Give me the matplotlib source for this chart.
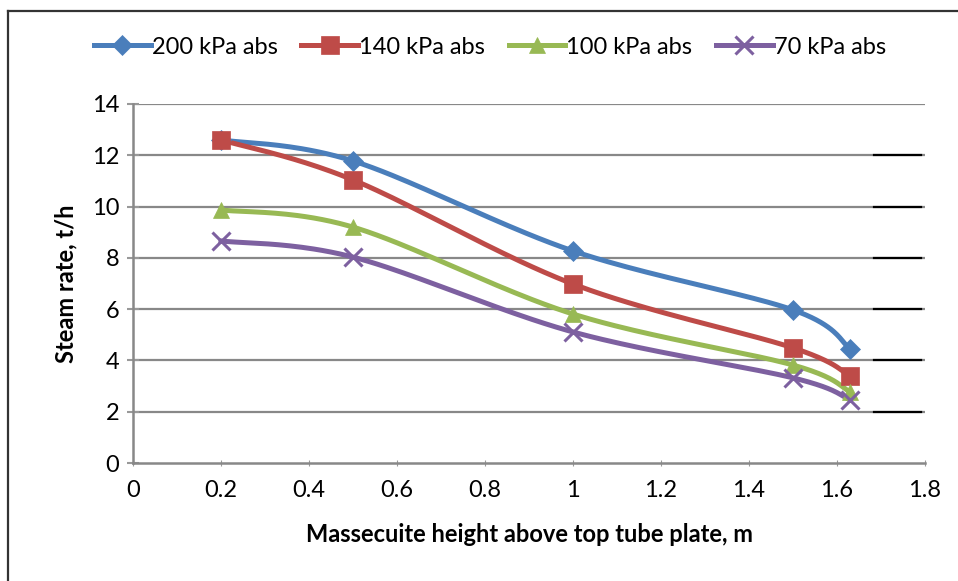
import numpy as np
import matplotlib.pyplot as plt
from matplotlib.lines import Line2D

plt.rcParams['font.family'] = ['Lato', 'DejaVu Sans']

# data
height = [0.2, 0.5, 1.0, 1.5, 1.63]
steam_200 = [12.6, 11.78, 8.27, 5.97, 4.45]
steam_140 = [12.6, 11.04, 6.98, 4.49, 3.39]
steam_100 = [9.87, 9.2, 5.81, 3.82, 2.77]
steam_70 = [8.66, 8.03, 5.11, 3.32, 2.46]

labels = ['200 kPa abs', '140 kPa abs', '100 kPa abs', '70 kPa abs']
colors = ['#4a7ebb', '#be4b48', '#98b954', '#7d60a0']
markers = ['D', 's', '^', 'x']
msizes = [10, 13, 11, 13]


def smooth(x, y, n=40):
    # Excel-like smoothed line: cubic bezier with catmull-rom control points
    x = np.asarray(x, float)
    y = np.asarray(y, float)
    px = np.concatenate([[x[0]], x, [x[-1]]])
    py = np.concatenate([[y[0]], y, [y[-1]]])
    xs, ys = [], []
    t = np.linspace(0, 1, n)
    for i in range(1, len(px) - 2):
        p0 = np.array([px[i], py[i]])
        p3 = np.array([px[i + 1], py[i + 1]])
        p1 = p0 + (np.array([px[i + 1], py[i + 1]]) - np.array([px[i - 1], py[i - 1]])) / 6
        p2 = p3 - (np.array([px[i + 2], py[i + 2]]) - np.array([px[i], py[i]])) / 6
        b = ((1 - t) ** 3)[:, None] * p0 + (3 * (1 - t) ** 2 * t)[:, None] * p1 \
            + (3 * (1 - t) * t ** 2)[:, None] * p2 + (t ** 3)[:, None] * p3
        xs.extend(b[:, 0])
        ys.extend(b[:, 1])
    return xs, ys


fig = plt.figure(figsize=(9.58, 5.81), dpi=100)
ax = fig.add_axes([133 / 958, 1 - 463 / 581, (925 - 133) / 958, (463 - 104) / 581])

series = [steam_200, steam_140, steam_100, steam_70]
for vals, lab, c, m, ms in zip(series, labels, colors, markers, msizes):
    sx, sy = smooth(height, vals)
    ax.plot(sx, sy, color=c, linewidth=3.6, zorder=3)
    ax.plot(height, vals, linestyle='none', marker=m, markersize=ms, color=c,
            markeredgewidth=2.2 if m == 'x' else 0.5, zorder=4)

ax.set_xlim(0, 1.8)
ax.set_ylim(0, 14)
ax.set_xticks(np.arange(0, 1.81, 0.2))
ax.set_xticklabels(['0', '0.2', '0.4', '0.6', '0.8', '1', '1.2', '1.4', '1.6', '1.8'])
ax.set_yticks(range(0, 15, 2))
ax.tick_params(labelsize=17, colors='#999999', labelcolor='black')
ax.tick_params(axis='y', direction='inout', length=8, width=1.5, pad=6)
ax.tick_params(axis='x', direction='inout', length=4, width=0.8, pad=10)

for v in range(2, 15, 2):
    ax.axhline(v, color='#888888', linewidth=1.6, zorder=1)
    if v < 14:
        ax.plot([0.935, 0.995], [v, v], transform=ax.get_yaxis_transform(),
                color='black', linewidth=1.6, zorder=1)

for s in ['top', 'right']:
    ax.spines[s].set_visible(False)
for s in ['left', 'bottom']:
    ax.spines[s].set_color('#888888')
    ax.spines[s].set_linewidth(1.8)

ax.set_xlabel('Massecuite height above top tube plate, m', fontsize=17,
              fontweight='bold', labelpad=16)
ax.set_ylabel('Steam rate, t/h', fontsize=17, fontweight='bold', labelpad=10)

handles = [Line2D([0], [0], color=c, linewidth=3.6, marker=m, markersize=ms,
                  markeredgewidth=2.2 if m == 'x' else 0.5)
           for c, m, ms in zip(colors, markers, msizes)]
fig.legend(handles, labels, loc='center', bbox_to_anchor=(490 / 958, 1 - 47 / 581),
           ncol=4, frameon=False, fontsize=17, handlelength=2.4, handletextpad=0.05,
           columnspacing=1.0)

# outer chart frame (left and top edges visible)
fig.add_artist(Line2D([8 / 958, 8 / 958], [0, 1 - 11 / 581], color='#333333', linewidth=1.6))
fig.add_artist(Line2D([8 / 958, 1], [1 - 11 / 581, 1 - 11 / 581], color='#333333', linewidth=1.6))

fig.savefig('out.png', dpi=100)
